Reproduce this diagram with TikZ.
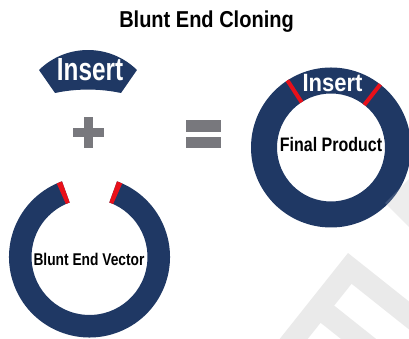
\documentclass[tikz,border=0pt]{standalone}
\usepackage{fontspec}
\setmainfont{Liberation Sans}
\definecolor{navy}{RGB}{31,56,100}
\definecolor{redmark}{RGB}{232,16,26}
\definecolor{symgray}{RGB}{120,120,125}
\definecolor{wmgray}{RGB}{234,234,234}
\begin{document}
\begin{tikzpicture}[x=1pt,y=1pt,
  lbl/.style={inner sep=0pt, anchor=base, font=\bfseries},
  band/.style={fill=navy},
  endmark/.style={fill=redmark},
  cutline/.style={draw=redmark, line width=4pt},
  sym/.style={fill=symgray},
  wm/.style={fill=wmgray}]
\useasboundingbox (0,0) rectangle (409,339);
% watermark (under)
\begin{scope}
\clip (0,0) rectangle (409,339);
\fill[wm] (385,136) -- (420,171) -- (420,101) -- cycle;
\fill[wm] (348,86) -- (465,-7) -- (451.4,-24.2) -- (351.6,55.2) -- (334.2,33.4) -- (434,-46) -- (420.4,-63.2) -- (320.6,16.2) -- (303.2,-5.6) -- (403,-85) -- (255,-31) -- cycle;
\end{scope}
% title
\node[lbl] (title) at (206.5,311) {\fontsize{23}{25}\selectfont\scalebox{0.87}[1]{Blunt End Cloning}};
% insert fragment
\fill[band] (39,269) arc[start angle=134.4,end angle=45.6,radius=70] -- (121,246) arc[start angle=78.1,end angle=101.9,radius=160] -- cycle;
\node[lbl,text=white] (ins) at (90,258.5) {\fontsize{32}{34}\selectfont\scalebox{0.76}[1]{Insert}};
% plus
\fill[sym] (84,191) rectangle (93,222);
\fill[sym] (73,202) rectangle (104,211);
% equals
\fill[sym] (186,207) rectangle (221,219);
\fill[sym] (186,191) rectangle (221,202);
% vector
\coordinate (vc) at (89.5,82);
\fill[band] ([shift={(110:80.5)}]vc) arc[start angle=110,end angle=430,radius=80.5] -- ([shift={(70:58)}]vc) arc[start angle=430,end angle=110,radius=58] -- cycle;
\fill[endmark] ([shift={(110:80.5)}]vc) arc[start angle=110,end angle=114,radius=80.5] -- ([shift={(114:58)}]vc) arc[start angle=114,end angle=110,radius=58] -- cycle;
\fill[endmark] ([shift={(70:80.5)}]vc) arc[start angle=70,end angle=66,radius=80.5] -- ([shift={(66:58)}]vc) arc[start angle=66,end angle=70,radius=58] -- cycle;
\node[lbl] (vec) at (89,73) {\fontsize{17}{19}\selectfont\scalebox{0.81}[1]{Blunt End Vector}};
% final product
\coordinate (fc) at (331,191.5);
\fill[band,even odd rule] (fc) circle[radius=80] (fc) circle[radius=54];
\draw[cutline] ([shift={(123:54)}]fc) -- ([shift={(123:80)}]fc);
\draw[cutline] ([shift={(52:54)}]fc) -- ([shift={(52:80)}]fc);
\node[lbl,text=white] (fins) at (332.5,247.5) {\fontsize{25}{27}\selectfont\scalebox{0.88}[1]{Insert}};
\node[lbl] (fp) at (331,187) {\fontsize{19.5}{21}\selectfont\scalebox{0.82}[1]{Final Product}};
% watermark overlay
\begin{scope}
\clip (0,0) rectangle (409,339);
\fill[white,opacity=0.15] (385,136) -- (420,171) -- (420,101) -- cycle;
\end{scope}
\end{tikzpicture}
\end{document}
